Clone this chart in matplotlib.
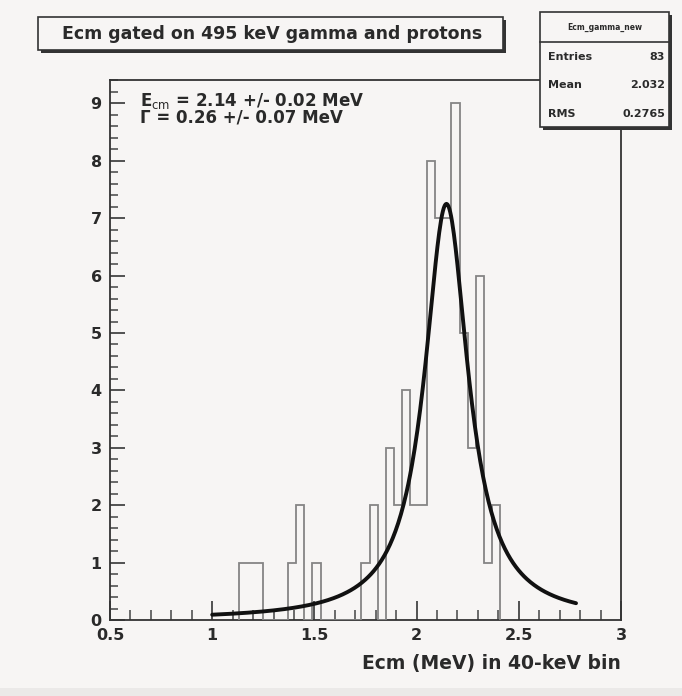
import numpy as np
import matplotlib
matplotlib.use("Agg")
import matplotlib.pyplot as plt
from matplotlib.ticker import MultipleLocator, FixedLocator
from matplotlib.patches import Rectangle

# ---------------- data ----------------
first_edge = 1.13
bin_width = 0.04
counts = [1, 1, 1, 0, 0, 0, 1, 2, 0, 1, 0, 0, 0, 0, 0,
          1, 2, 0, 3, 2, 4, 2, 2, 8, 7, 7, 9, 5, 3, 6, 1, 2]

title = "Ecm gated on 495 keV gamma and protons"
xlabel = "Ecm (MeV) in 40-keV bin"
xticks = [0.5, 1.0, 1.5, 2.0, 2.5, 3.0]
xtick_labels = ["0.5", "1", "1.5", "2", "2.5", "3"]
yticks = [0, 1, 2, 3, 4, 5, 6, 7, 8, 9]
ytick_labels = ["0", "1", "2", "3", "4", "5", "6", "7", "8", "9"]
stats_name = "Ecm_gamma_new"
stats_labels = ["Entries", "Mean", "RMS"]
stats_values = ["83", "2.032", "0.2765"]

E_cm, E_err = 2.14, 0.02
Gamma, G_err = 0.26, 0.07
fit_peak = 7.25
fit_range = (1.0, 2.78)

# ---------------- figure ----------------
W, H = 682, 696
BG = "#f7f5f4"
FONT = ["DejaVu Sans"]
TXT = "#2a2a2a"

fig = plt.figure(figsize=(W / 100, H / 100), dpi=100, facecolor=BG)

def fx(px):
    return px / W

def fy(py):
    return 1 - py / H

# light grey strip at the bottom of the picture
fig.patches.append(Rectangle((0, 0), 1, 8 / H, transform=fig.transFigure,
                             facecolor="#ebe9e8", edgecolor="none", zorder=0))

ax_l, ax_r, ax_t, ax_b = 110, 621, 80, 620
ax = fig.add_axes([fx(ax_l), fy(ax_b), fx(ax_r - ax_l), (ax_b - ax_t) / H])
ax.set_facecolor(BG)

edges = first_edge + bin_width * np.arange(len(counts) + 1)
ax.stairs(counts, edges, color="#858585", linewidth=1.3, zorder=3)

# Breit-Wigner fit curve from the displayed parameters
xf = np.linspace(fit_range[0], fit_range[1], 400)
hw2 = (Gamma / 2) ** 2
yf = fit_peak * hw2 / ((xf - E_cm - 0.006) ** 2 + hw2)
ax.plot(xf, yf, color="#111111", linewidth=2.8, zorder=4, solid_capstyle="round")

ax.set_xlim(0.5, 3.0)
ax.set_ylim(0, (ax_b - ax_t) / 57.4)

ax.xaxis.set_major_locator(FixedLocator(xticks))
ax.xaxis.set_minor_locator(MultipleLocator(0.1))
ax.yaxis.set_major_locator(FixedLocator(yticks))
ax.yaxis.set_minor_locator(MultipleLocator(0.2))
ax.set_xticklabels(xtick_labels)
ax.set_yticklabels(ytick_labels)

ax.tick_params(axis="both", which="both", direction="in", color="#444444",
               top=False, right=False)
ax.tick_params(axis="x", which="major", length=14, width=1.3, pad=6)
ax.tick_params(axis="x", which="minor", length=7, width=1.1)
ax.tick_params(axis="y", which="major", length=11, width=1.3, pad=6)
ax.tick_params(axis="y", which="minor", length=6, width=1.1)
for lab in ax.get_xticklabels() + ax.get_yticklabels():
    lab.set_fontfamily(FONT)
    lab.set_fontweight("bold")
    lab.set_fontsize(11.5)
    lab.set_color(TXT)

for s in ax.spines.values():
    s.set_color("#333333")
    s.set_linewidth(1.3)

ax.text(1.0, -0.063, xlabel, transform=ax.transAxes, ha="right", va="top",
        fontsize=13.5, fontweight="bold", family=FONT, color=TXT)

ax.text(0.058, 0.962, r"E$_{\mathrm{cm}}$ = %.2f +/- %.2f MeV" % (E_cm, E_err),
        transform=ax.transAxes, ha="left", va="center", fontsize=12,
        fontweight="bold", family=FONT, color=TXT)
ax.text(0.058, 0.93, "\u0393 = %.2f +/- %.2f MeV" % (Gamma, G_err),
        transform=ax.transAxes, ha="left", va="center", fontsize=12,
        fontweight="bold", family=FONT, color=TXT)

# ---------------- boxes ----------------
def box(x0, y0, x1, y1, shadow=4):
    fig.patches.append(Rectangle((fx(x0 + shadow), fy(y1 + shadow)),
                                 fx(x1 - x0), (y1 - y0) / H,
                                 transform=fig.transFigure, facecolor="#333333",
                                 edgecolor="none", zorder=10))
    fig.patches.append(Rectangle((fx(x0), fy(y1)), fx(x1 - x0), (y1 - y0) / H,
                                 transform=fig.transFigure, facecolor=BG,
                                 edgecolor="#333333", linewidth=1.2, zorder=11))

box(38, 17, 503, 50, shadow=3)
fig.text(fx(272), fy(34), title, ha="center", va="center", fontsize=12.5,
         fontweight="bold", family=FONT, color=TXT, zorder=12)

box(540, 12, 669, 127, shadow=3)
fig.text(fx(604.5), fy(27), stats_name, ha="center", va="center", fontsize=5.5,
         fontweight="bold", family=FONT, color=TXT, zorder=12)
fig.lines.append(plt.Line2D([fx(540), fx(669)], [fy(42), fy(42)],
                            transform=fig.transFigure, color="#333333",
                            linewidth=1.2, zorder=12))
for i, (lab, val) in enumerate(zip(stats_labels, stats_values)):
    yy = 57 + i * 28.5
    fig.text(fx(548), fy(yy), lab, ha="left", va="center", fontsize=8,
             fontweight="bold", family=FONT, color=TXT, zorder=12)
    fig.text(fx(665), fy(yy), val, ha="right", va="center", fontsize=8,
             fontweight="bold", family=FONT, color=TXT, zorder=12)

fig.savefig("out.png", dpi=100, facecolor=BG)
